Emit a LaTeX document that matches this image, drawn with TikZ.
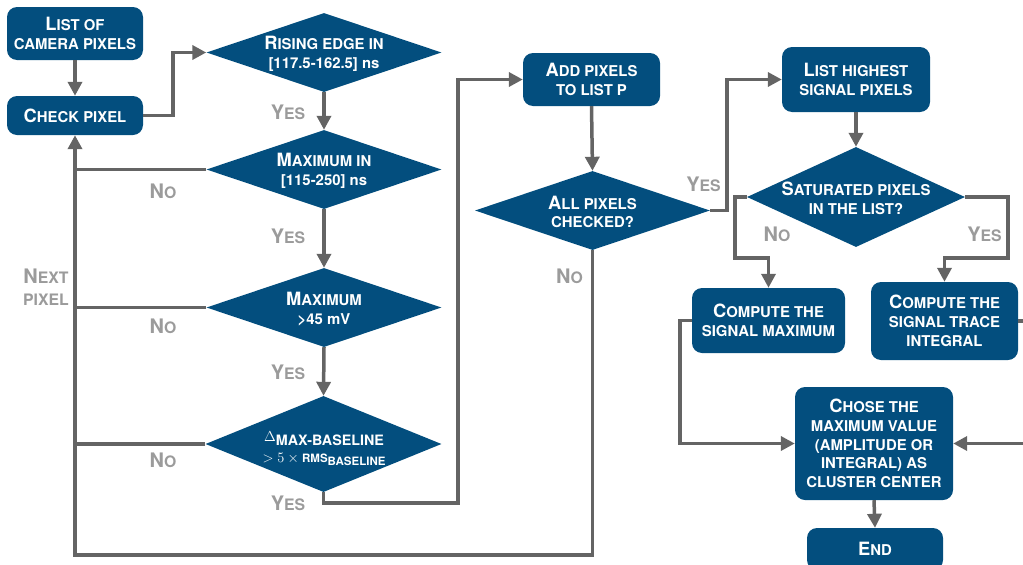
\documentclass[tikz,border=0pt]{standalone}
\usepackage{fontspec}
\setmainfont{TeX Gyre Heros}
\usetikzlibrary{shapes.geometric,arrows.meta}
\definecolor{nodeblue}{RGB}{3,78,126}
\definecolor{linegray}{RGB}{100,100,100}
\definecolor{labelgray}{RGB}{155,155,155}
\newcommand\Bg[1]{{\fontsize{18.3}{18.8}\selectfont #1}}
\newcommand\Lg[1]{{\fontsize{20}{21}\selectfont #1}}
\tikzset{
  box/.style={fill=nodeblue, rounded corners=10pt, text=white, align=center, inner sep=0pt,
    font=\bfseries\fontsize{14.9}{18.8}\selectfont},
  dia/.style={diamond, fill=nodeblue, inner sep=0pt},
  dtext/.style={text=white, align=center, inner sep=0pt, font=\bfseries\fontsize{14.9}{18.8}\selectfont},
  conn/.style={draw=linegray, line width=3.5pt, -{Triangle[length=14pt,width=14pt]}},
  plain/.style={draw=linegray, line width=3.5pt},
  lab/.style={text=labelgray, align=center, inner sep=0pt, font=\bfseries\fontsize{15.8}{21.5}\selectfont}
}
\begin{document}
\begin{tikzpicture}[x=1pt,y=-1pt]
\useasboundingbox (0,0) rectangle (1023,565);
\clip (0,0) rectangle (1023,565);
% boxes
\node[box, minimum width=136pt, minimum height=53pt] (list) at (75,33.5) {\Bg{L}IST OF\\CAMERA PIXELS};
\node[box, minimum width=136pt, minimum height=39pt] (check) at (75,115.5) {\Bg{C}HECK PIXEL};
\node[box, minimum width=137pt, minimum height=53pt] (add) at (591.5,79.5) {\Bg{A}DD PIXELS\\TO LIST P};
\node[box, minimum width=148pt, minimum height=65pt] (hi) at (856,79.5) {\Bg{L}IST HIGHEST\\SIGNAL PIXELS};
\node[box, minimum width=153pt, minimum height=65pt] (cm) at (768.5,320.5) {\Bg{C}OMPUTE THE\\SIGNAL MAXIMUM};
\node[box, minimum width=147pt, minimum height=78pt] (ci) at (944.5,321) {\Bg{C}OMPUTE THE\\SIGNAL TRACE\\INTEGRAL};
\node[box, minimum width=158pt, minimum height=113pt] (ch) at (874,443.5) {\Bg{C}HOSE THE\\MAXIMUM VALUE\\(AMPLITUDE OR\\INTEGRAL) AS\\CLUSTER CENTER};
\node[box, minimum width=136pt, minimum height=42pt] (end) at (875,549) {\Bg{E}ND};
% diamonds
\node[dia, minimum width=235pt, minimum height=79pt] (d1) at (324,52.5) {};
\node[dtext] (d1t) at (324,54) {\Bg{R}ISING EDGE IN\\{[}117.5-162.5] ns};
\node[dia, minimum width=235pt, minimum height=79pt] (d2) at (324,169.5) {};
\node[dtext] (d2t) at (324,171) {\Bg{M}AXIMUM IN\\{[}115-250] ns};
\node[dia, minimum width=235pt, minimum height=79pt] (d3) at (324,307.5) {};
\node[dtext] (d3t) at (324,309) {\Bg{M}AXIMUM\\>45 mV};
\node[dia, minimum width=236pt, minimum height=96pt] (d4) at (323.5,444) {};
\node[dtext, font=\bfseries\fontsize{14.3}{17}\selectfont] (d4t) at (324,449) {{\fontsize{13.5}{12}\selectfont\raisebox{4pt}{$\Delta$}}MAX-BASELINE\\{\fontsize{14.5}{12}\selectfont $>5\times{}$}{\fontsize{11.5}{12}\selectfont RMS\raisebox{-3pt}{BASELINE}}};
\node[dia, minimum width=235pt, minimum height=79pt] (d5) at (592.5,210.5) {};
\node[dtext] (d5t) at (592.5,212) {\Bg{A}LL PIXELS\\CHECKED?};
\node[dia, minimum width=218pt, minimum height=100pt] (d6) at (856,197) {};
\node[dtext] (d6t) at (856,198) {\Bg{S}ATURATED PIXELS\\IN THE LIST?};
% coordinates
\coordinate (bl) at (75,555);
\coordinate (br) at (592.5,555);
\coordinate (yx) at (458,503);
\coordinate (nl) at (735,258);
\coordinate (yr) at (1008,258);
% connectors
\draw[conn] (list) -- (check);
\draw[conn] (check.east) -- ++(30,0) |- (d1.west);
\draw[conn] (d1.south) -- (d2.north);
\draw[conn] (d2.south) -- (d3.north);
\draw[conn] (d3.south) -- (d4.north);
\draw[plain] (d2.west) -- (d2.west -| bl);
\draw[plain] (d3.west) -- (d3.west -| bl);
\draw[plain] (d4.west) -- (d4.west -| bl);
\draw[conn] (d5.south) -- (br) -- (bl) -- (check.south);
\draw[conn] (d4.south) |- (yx) |- (add.west);
\draw[conn] (add.south) -- (d5.north);
\draw[conn] (d5.east) -- ++(17,0) |- (hi.west);
\draw[conn] (hi.south) -- (d6.north);
\draw[conn] (d6.west) -| (nl) -| (cm.north);
\draw[conn] (d6.east) -| (yr) -| (ci.north);
\draw[conn] (cm.west) -- ++(-12,0) |- (ch.west);
\draw[conn] (ci.east) -- ++(20,0) |- (ch.east);
\draw[conn] (ch.south) -- (end.north);
% labels
\node[lab] (y1) at (288,112) {\Lg{Y}ES};
\node[lab] (y2) at (288,236) {\Lg{Y}ES};
\node[lab] (y3) at (288,372) {\Lg{Y}ES};
\node[lab] (y4) at (288,503) {\Lg{Y}ES};
\node[lab] (n1) at (163,191) {\Lg{N}O};
\node[lab] (n2) at (163,326) {\Lg{N}O};
\node[lab] (n3) at (163,460) {\Lg{N}O};
\node[lab] (np) at (46,287) {\Lg{N}EXT\\PIXEL};
\node[lab] (y5) at (703.5,184.5) {\Lg{Y}ES};
\node[lab] (n5) at (569.5,276) {\Lg{N}O};
\node[lab] (n6) at (777,234.5) {\Lg{N}O};
\node[lab] (y6) at (984.5,234.5) {\Lg{Y}ES};
\end{tikzpicture}
\end{document}
